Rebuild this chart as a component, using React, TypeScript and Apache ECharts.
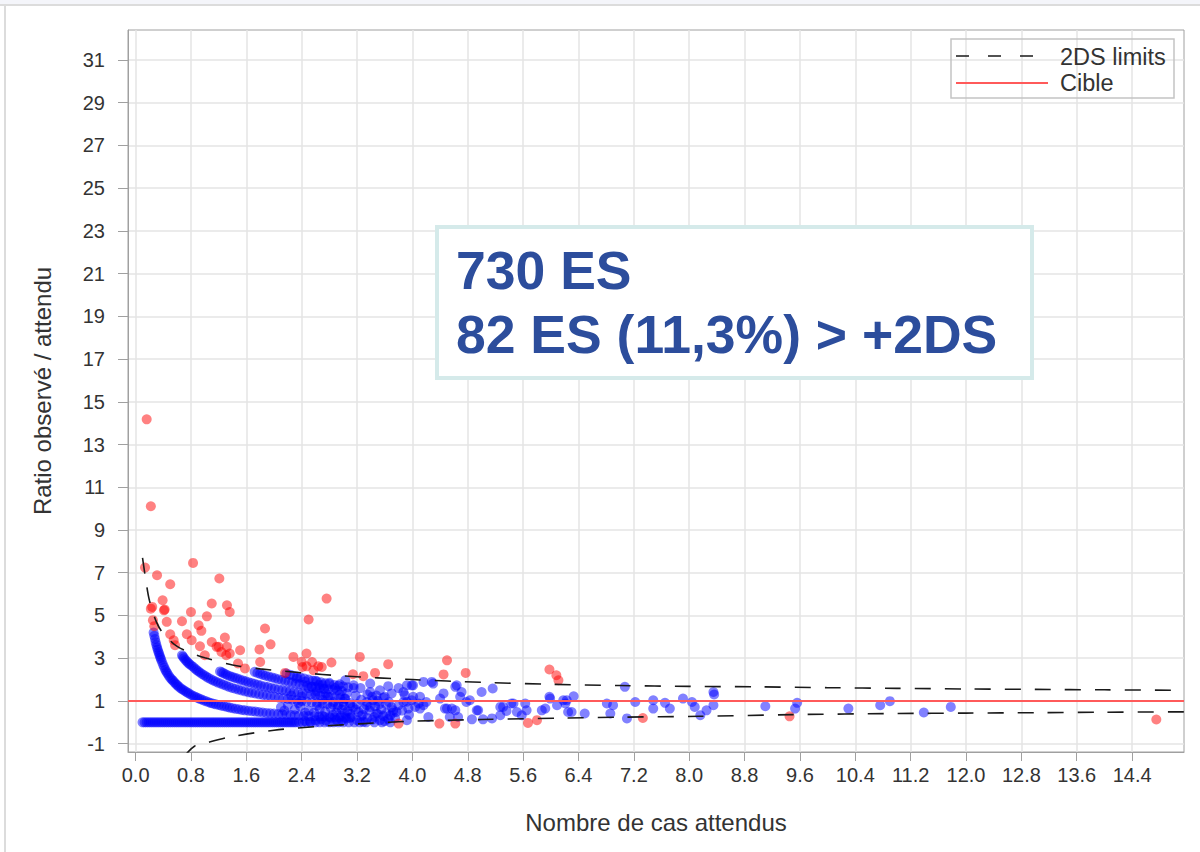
import React, { useEffect, useRef } from "react";
import * as echarts from "echarts";

// ---------- tick labels ----------
const xTicks = [0, 0.8, 1.6, 2.4, 3.2, 4.0, 4.8, 5.6, 6.4, 7.2, 8.0, 8.8, 9.6, 10.4, 11.2, 12.0, 12.8, 13.6, 14.4];
const yTicks = [-1, 1, 3, 5, 7, 9, 11, 13, 15, 17, 19, 21, 23, 25, 27, 29, 31];

// ---------- reference lines ----------
const TARGET = 1;
const upperLimit: number[][] = [
  [0.1, 7.7], [0.15, 6.6], [0.2, 5.7], [0.3, 4.7], [0.4, 4.15], [0.6, 3.55], [0.8, 3.25], [1.0, 3.02],
  [1.4, 2.68], [1.8, 2.5], [2.4, 2.32], [3.0, 2.17], [4.0, 2.0], [5.0, 1.87], [6.0, 1.78], [7.0, 1.72],
  [8.0, 1.68], [9.0, 1.66], [10, 1.62], [11, 1.59], [12, 1.56], [13, 1.54], [14, 1.52], [15, 1.5],
];
const lowerLimit: number[][] = [
  [0.7, -1.6], [0.85, -1.12], [1.0, -0.98], [1.36, -0.69], [2.0, -0.37], [2.66, -0.19], [3.3, -0.06],
  [4.0, 0.05], [5.0, 0.13], [6.2, 0.2], [7.0, 0.24], [8.15, 0.28], [9.5, 0.36], [11, 0.41], [12, 0.43],
  [13, 0.45], [14, 0.47], [15.15, 0.49],
];

// ---------- blue points (within limits) ----------
// expected cases of establishments with ratio 0
const zeroRowE = [
  0.10, 0.13, 0.16, 0.19, 0.22, 0.25, 0.28, 0.31, 0.34, 0.37, 0.40, 0.43, 0.46, 0.49, 0.52, 0.55, 0.58, 0.61,
  0.64, 0.67, 0.70, 0.73, 0.76, 0.79, 0.82, 0.85, 0.88, 0.91, 0.94, 0.97, 1.00, 1.03, 1.06, 1.09, 1.12, 1.15,
  1.18, 1.21, 1.24, 1.27, 1.30, 1.33, 1.36, 1.39, 1.42, 1.45, 1.48, 1.51, 1.54, 1.57, 1.60, 1.63, 1.66, 1.69,
  1.72, 1.75, 1.78, 1.81, 1.84, 1.87, 1.90, 1.93, 1.96, 1.99, 2.02, 2.05, 2.08, 2.11, 2.14, 2.17, 2.20, 2.23,
  2.26, 2.29, 2.32, 2.36, 2.41, 2.47, 2.53, 2.60, 2.66, 2.73, 2.80, 2.86, 2.93, 3.00, 3.08, 3.16, 3.24, 3.33,
  3.45, 3.56, 3.68,
];
const band1: number[][] = [
  [0.26, 4.2], [0.27, 4.05], [0.28, 3.9], [0.29, 3.75], [0.30, 3.62], [0.31, 3.5], [0.32, 3.4], [0.33, 3.29],
  [0.34, 3.2], [0.35, 3.1], [0.36, 3.01], [0.37, 2.92], [0.385, 2.8], [0.40, 2.67], [0.415, 2.56], [0.43, 2.45],
  [0.445, 2.36], [0.46, 2.28], [0.48, 2.18], [0.50, 2.08], [0.52, 2.01], [0.54, 1.95], [0.56, 1.87], [0.58, 1.8],
  [0.60, 1.74], [0.62, 1.68], [0.645, 1.61], [0.67, 1.55], [0.695, 1.5], [0.72, 1.45], [0.745, 1.4], [0.77, 1.35],
  [0.80, 1.29], [0.83, 1.24], [0.86, 1.2], [0.89, 1.15], [0.92, 1.11], [0.95, 1.07], [0.985, 1.02], [1.02, 0.98],
  [1.055, 0.94], [1.09, 0.9], [1.125, 0.87], [1.16, 0.84], [1.20, 0.81], [1.24, 0.78], [1.28, 0.75], [1.32, 0.72],
  [1.36, 0.69], [1.40, 0.66], [1.445, 0.63], [1.49, 0.61], [1.535, 0.58], [1.58, 0.56], [1.63, 0.54], [1.68, 0.52],
  [1.73, 0.5], [1.78, 0.48], [1.835, 0.46], [1.89, 0.44], [1.945, 0.42], [2.0, 0.41], [2.06, 0.39], [2.12, 0.38],
  [2.18, 0.36], [2.24, 0.35], [2.30, 0.33], [2.36, 0.32], [2.43, 0.3], [2.5, 0.29], [2.58, 0.28], [2.65, 0.27],
  [2.73, 0.26], [2.8, 0.25], [2.88, 0.24], [2.95, 0.23], [3.03, 0.22], [3.1, 0.21],
];
const band2: number[][] = [
  [0.67, 3.14], [0.685, 3.07], [0.70, 3.0], [0.72, 2.92], [0.74, 2.85], [0.76, 2.78], [0.78, 2.72], [0.805, 2.66],
  [0.83, 2.6], [0.855, 2.52], [0.88, 2.45], [0.905, 2.39], [0.93, 2.33], [0.96, 2.26], [0.99, 2.2], [1.02, 2.14],
  [1.05, 2.08], [1.085, 2.02], [1.12, 1.96], [1.155, 1.91], [1.19, 1.86], [1.23, 1.81], [1.27, 1.76], [1.31, 1.71],
  [1.35, 1.66], [1.395, 1.61], [1.44, 1.57], [1.485, 1.53], [1.53, 1.49], [1.58, 1.45], [1.63, 1.41], [1.68, 1.38],
  [1.73, 1.35], [1.785, 1.31], [1.84, 1.28], [1.895, 1.25], [1.95, 1.22], [2.01, 1.18], [2.07, 1.15], [2.135, 1.12],
  [2.2, 1.09], [2.265, 1.06], [2.33, 1.03], [2.4, 1.0], [2.47, 0.97], [2.545, 0.94], [2.62, 0.91], [2.7, 0.88],
  [2.77, 0.86], [2.85, 0.83], [2.93, 0.81], [3.01, 0.79], [3.1, 0.77],
];
const band3: number[][] = [
  [1.22, 2.38], [1.245, 2.34], [1.27, 2.3], [1.30, 2.25], [1.33, 2.2], [1.365, 2.16], [1.40, 2.12], [1.435, 2.08],
  [1.47, 2.05], [1.51, 2.0], [1.55, 1.96], [1.59, 1.92], [1.63, 1.88], [1.675, 1.84], [1.72, 1.8], [1.765, 1.76],
  [1.81, 1.72], [1.86, 1.68], [1.91, 1.65], [1.96, 1.61], [2.01, 1.58], [2.065, 1.54], [2.12, 1.51], [2.175, 1.48],
  [2.23, 1.45], [2.29, 1.42], [2.35, 1.39], [2.41, 1.36], [2.47, 1.33], [2.535, 1.3], [2.6, 1.27], [2.67, 1.24],
  [2.74, 1.21], [2.81, 1.18], [2.88, 1.16], [2.955, 1.13], [3.03, 1.11],
];
const band4: number[][] = [
  [1.72, 2.36], [1.76, 2.31], [1.8, 2.27], [1.84, 2.22], [1.88, 2.18], [1.925, 2.14], [1.97, 2.1], [2.015, 2.06],
  [2.06, 2.02], [2.11, 1.98], [2.16, 1.94], [2.21, 1.9], [2.26, 1.86], [2.315, 1.82], [2.37, 1.79], [2.425, 1.75],
  [2.48, 1.72], [2.54, 1.68], [2.6, 1.65], [2.66, 1.61], [2.72, 1.58], [2.785, 1.55], [2.85, 1.52], [2.915, 1.49],
  [2.98, 1.46],
];
const band5: number[][] = [
  [2.18, 2.28], [2.23, 2.23], [2.28, 2.18], [2.33, 2.14], [2.38, 2.1], [2.44, 2.05], [2.5, 2.0], [2.56, 1.95],
  [2.62, 1.91], [2.68, 1.87], [2.74, 1.83], [2.8, 1.79], [2.87, 1.75], [2.93, 1.71], [3.0, 1.68], [3.07, 1.64], [3.15, 1.6],
];
const blueScatter: number[][] = [
  [2.45, 0.05], [2.52, 0.02], [2.6, 0.1], [2.68, 0.15], [2.75, 0.08], [2.82, 0.2], [2.9, 0.12], [2.97, 0.3],
  [3.05, 0.18], [3.12, 0.25], [3.2, 0.1], [3.28, 0.35], [3.35, 0.2], [3.42, 0.12], [3.5, 0.4], [3.58, 0.3],
  [3.65, 0.15], [3.72, 0.45], [2.5, 0.55], [2.58, 0.45], [2.66, 0.62], [2.74, 0.5], [2.82, 0.68], [2.9, 0.45],
  [2.98, 0.6], [3.06, 0.52], [3.14, 0.7], [3.22, 0.48], [3.3, 0.62], [3.38, 0.55], [3.46, 0.75], [3.55, 0.6],
  [3.62, 0.85], [3.7, 0.7], [2.6, 1.35], [2.7, 1.05], [2.78, 1.2], [2.86, 0.95], [2.95, 1.3], [3.02, 1.1],
  [3.1, 0.9], [3.18, 1.25], [3.26, 1.05], [3.34, 0.95], [3.42, 1.2], [3.5, 1.0], [3.58, 1.15], [3.66, 0.95],
  [2.55, 1.66], [2.65, 1.75], [2.72, 1.55], [2.8, 1.85], [2.88, 1.6], [3.03, 1.97], [3.15, 1.73], [3.05, 1.35],
  [3.39, 1.81], [3.53, 1.5], [3.65, 1.69], [3.39, 1.42], [3.25, 1.6], [2.95, 1.78], [2.33, 2.05], [2.45, 1.9],
  [2.6, 1.95], [2.7, 1.75], [2.5, 1.6], [2.62, 1.45], [2.75, 1.35],
  [2.1, 0.7], [2.2, 0.8], [2.3, 0.6], [2.38, 0.75], [2.25, 1.25], [2.4, 1.2], [2.15, 0.55], [2.45, 0.45], [2.35, 0.9],
  [3.1, 0.4], [3.18, 0.6], [3.26, 0.3], [3.34, 0.8], [3.45, 0.25], [3.52, 0.85], [3.6, 0.05], [3.68, 0.32],
  [3.75, 0.2], [3.8, 0.8], [3.85, 0.55], [3.95, 0.35], [2.98, 0.08], [3.02, 0.42], [2.85, 0.35], [2.7, 0.3],
  [2.62, 0.78], [2.92, 0.7], [3.0, 0.95], [3.2, 0.85], [3.35, 1.3], [3.48, 1.25], [3.7, 1.35], [3.8, 1.6],
  [3.39, 0.72], [3.48, 0.41], [3.62, 0.41], [3.77, 0.48], [3.92, 0.96], [4.04, 0.72], [3.92, 0.1], [3.53, 0.1],
  [3.29, 0.02], [3.43, 1.03], [3.6, 1.19], [3.72, 0.56],
  [3.92, 1.73], [4.01, 1.73], [3.87, 1.42], [3.99, 1.03], [4.16, 1.89], [4.28, 1.89], [4.11, 1.19], [4.20, 0.95],
  [4.11, 0.64], [4.23, 0.25], [4.50, 0.64], [4.64, 1.73], [4.71, 1.42], [4.78, 0.95], [4.62, 0.56], [5.0, 1.42],
  [5.16, 1.58], [4.95, 0.56], [5.15, 0.18], [5.31, 0.72], [5.46, 0.88], [5.51, 0.48], [5.27, 0.33], [5.65, 0.56],
  [5.87, 0.56], [5.98, 1.19], [6.09, 0.80], [6.23, 1.03], [6.25, 0.48],
  [4.30, 1.81], [3.99, 1.73], [3.89, 1.27], [3.87, 0.95], [4.01, 1.19], [4.09, 0.88], [4.16, 0.80], [3.94, 0.64],
  [4.45, 1.35], [4.40, 1.11], [4.47, 0.64], [4.57, 0.64], [4.62, 1.66], [4.69, 1.19], [4.83, 1.03], [4.66, 0.25],
  [4.54, 0.25], [4.93, 0.56], [4.86, 0.14], [5.02, 0.14], [5.27, 0.72], [5.43, 0.88], [5.36, 0.53], [5.63, 0.88],
  [5.58, 0.33], [5.92, 0.64], [5.99, 1.11], [6.21, 0.88], [6.33, 1.22], [6.18, 1.03], [6.30, 0.48], [6.49, 0.41],
  [6.81, 0.88], [6.86, 0.41], [6.90, 0.80], [7.07, 1.66], [7.10, 0.18], [7.22, 0.95], [7.48, 1.03], [7.48, 0.64],
  [7.65, 0.91], [7.72, 0.64], [7.91, 1.11], [8.04, 0.95], [8.08, 0.72], [8.16, 0.33], [8.25, 0.56], [8.35, 0.80],
  [8.35, 1.42], [8.36, 1.3], [9.10, 0.75], [9.56, 0.91], [9.53, 0.64], [10.30, 0.64], [10.76, 0.80], [10.90, 0.99],
  [11.39, 0.46], [11.78, 0.72],
];

// ---------- red points (outside limits) ----------
const redPoints: number[][] = [
  [0.16, 14.18], [0.22, 10.11], [0.136, 7.24], [0.31, 6.88], [0.50, 6.46], [0.83, 7.46], [1.21, 6.73], [0.39, 5.71],
  [0.22, 5.32], [0.41, 5.24], [1.10, 5.56], [1.32, 5.48], [1.36, 5.16], [0.80, 5.16], [1.03, 4.96], [0.25, 4.78],
  [0.45, 4.70], [0.67, 4.73], [0.91, 4.54], [0.95, 4.28], [1.87, 4.39], [0.27, 4.5], [0.50, 4.12], [0.55, 3.84],
  [0.57, 3.61], [0.74, 4.12], [0.81, 3.84], [1.10, 3.76], [1.29, 3.97], [1.20, 3.53], [1.32, 3.53], [0.93, 3.56],
  [1.51, 3.37], [1.0, 3.14], [1.36, 3.22], [1.79, 3.41], [1.95, 3.65], [1.80, 2.82], [1.48, 2.75], [1.58, 2.52],
  [2.50, 4.81], [2.76, 5.79], [2.28, 3.06], [2.47, 3.22], [2.55, 2.82], [2.41, 2.59], [2.69, 2.59], [2.16, 2.31],
  [2.83, 2.8], [3.24, 3.06], [3.14, 2.25], [3.29, 2.16], [3.46, 2.31], [3.65, 2.72], [3.80, -0.06], [4.50, 2.9],
  [4.45, 2.24], [4.77, 2.31], [4.39, -0.06], [4.62, -0.06], [5.67, -0.03], [5.80, 0.10], [5.98, 2.47], [6.08, 2.2],
  [6.11, 1.97], [7.33, 0.2], [9.45, 0.28], [14.75, 0.13], [1.17, 3.53], [1.24, 3.29], [1.31, 3.14], [2.40, 2.83],
  [2.47, 2.62], [2.57, 2.44], [2.64, 2.62], [0.24, 5.4], [0.42, 5.28],
];

const bluePoints: number[][] = [
  ...zeroRowE.map((e) => [e, 0]),
  ...band1, ...band2, ...band3, ...band4, ...band5, ...blueScatter,
];

const FONT = "'Liberation Sans', Arial, sans-serif";

export default function App() {
  const ref = useRef<HTMLDivElement>(null);
  useEffect(() => {
    if (!ref.current) return;
    const chart = echarts.init(ref.current, null, { renderer: "svg" });
    chart.setOption({
      animation: false,
      backgroundColor: "#ffffff",
      grid: { left: 128, top: 30, width: 1056, height: 722, show: true, borderColor: "#a0a0a0", borderWidth: 1 },
      xAxis: {
        type: "value", min: -0.11, max: 15.15,
        name: "Nombre de cas attendus", nameLocation: "middle", nameGap: 58,
        nameTextStyle: { fontFamily: FONT, fontSize: 24, color: "#333" },
        axisLine: { show: true, onZero: false, lineStyle: { color: "#a0a0a0" } },
        axisTick: { show: true, customValues: xTicks, length: 9, lineStyle: { color: "#a0a0a0" } },
        axisLabel: { customValues: xTicks, formatter: (v: number) => v.toFixed(1), fontFamily: FONT, fontSize: 20, color: "#333", margin: 13 },
        splitLine: { show: true, lineStyle: { color: "#e4e4e4", width: 1.5 } },
      },
      yAxis: {
        type: "value", min: -1.39, max: 32.4,
        name: "Ratio observé / attendu", nameLocation: "middle", nameGap: 74,
        nameTextStyle: { fontFamily: FONT, fontSize: 24, color: "#333" },
        axisLine: { show: true, onZero: false, lineStyle: { color: "#a0a0a0" } },
        axisTick: { show: true, customValues: yTicks, length: 10, lineStyle: { color: "#a0a0a0" } },
        axisLabel: { customValues: yTicks, fontFamily: FONT, fontSize: 20, color: "#333", margin: 23 },
        splitLine: { show: true, lineStyle: { color: "#e4e4e4", width: 1.5 } },
      },
      series: [
        {
          type: "scatter", name: "in", data: bluePoints, symbolSize: 10, z: 2,
          itemStyle: { color: "rgba(0,0,255,0.62)" },
        },
        {
          type: "scatter", name: "out", data: redPoints, symbolSize: 10, z: 2,
          itemStyle: { color: "rgba(255,0,0,0.62)" },
        },
        {
          type: "line", name: "2DS limits", data: upperLimit, showSymbol: false, symbol: "none", smooth: 0.3, z: 3, clip: true,
          lineStyle: { color: "#1a1a1a", width: 1.6, type: [16, 14] },
        },
        {
          type: "line", name: "2DS limits low", data: lowerLimit, showSymbol: false, symbol: "none", smooth: 0.3, z: 3, clip: true,
          lineStyle: { color: "#1a1a1a", width: 1.6, type: [16, 14] },
        },
        {
          type: "line", name: "Cible", data: [], z: 3,
          markLine: {
            silent: true, symbol: "none", label: { show: false },
            lineStyle: { color: "#ff5a5a", width: 2.2, type: "solid" },
            data: [{ yAxis: TARGET }],
          },
        },
      ],
      graphic: [
        { type: "rect", shape: { x: 0, y: 0, width: 1200, height: 5 }, style: { fill: "#f4f5fa" }, silent: true },
        { type: "line", shape: { x1: 0, y1: 5, x2: 1200, y2: 5 }, style: { stroke: "#dcdcdc", lineWidth: 2 }, silent: true },
        { type: "line", shape: { x1: 5, y1: 5, x2: 5, y2: 852 }, style: { stroke: "#dcdcdc", lineWidth: 2 }, silent: true },
        // legend
        { type: "rect", shape: { x: 951, y: 39, width: 223, height: 59 }, style: { fill: "none", stroke: "#c4c4c4", lineWidth: 1.5 }, z: 10 },
        { type: "line", shape: { x1: 956, y1: 56, x2: 1040, y2: 56 }, style: { stroke: "#1a1a1a", lineWidth: 1.6, lineDash: [13, 19] }, z: 10 },
        { type: "text", x: 1060, y: 57, style: { text: "2DS limits", fontFamily: FONT, fontSize: 23.5, fill: "#333", verticalAlign: "middle" }, z: 10 },
        { type: "line", shape: { x1: 956, y1: 83, x2: 1048, y2: 83 }, style: { stroke: "#ff5a5a", lineWidth: 2 }, z: 10 },
        { type: "text", x: 1060, y: 83, style: { text: "Cible", fontFamily: FONT, fontSize: 23.5, fill: "#333", verticalAlign: "middle" }, z: 10 },
        // annotation box
        { type: "rect", shape: { x: 437, y: 227, width: 595, height: 151 }, style: { fill: "#ffffff", stroke: "#d5eaea", lineWidth: 4 }, z: 10 },
        { type: "text", x: 456, y: 270, style: { text: "730 ES", fontFamily: FONT, fontWeight: "bold", fontSize: 53.5, fill: "#2c4d9c", verticalAlign: "middle" }, z: 11 },
        { type: "text", x: 456, y: 334, style: { text: "82 ES (11,3%) > +2DS", fontFamily: FONT, fontWeight: "bold", fontSize: 53.5, fill: "#2c4d9c", verticalAlign: "middle" }, z: 11 },
      ],
    });
    return () => chart.dispose();
  }, []);
  return <div ref={ref} style={{ position: "fixed", left: 0, top: 0, width: 1200, height: 852, background: "#fff" }} />;
}
